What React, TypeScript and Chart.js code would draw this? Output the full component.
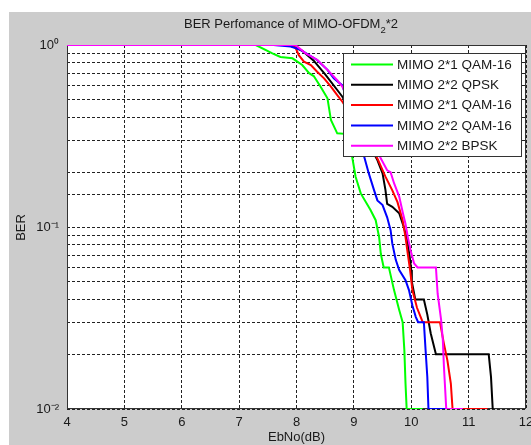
import React, { useEffect, useRef } from 'react';
import { Chart, registerables } from 'chart.js';

Chart.register(...registerables);

// ---- data (EbNo in dB, BER) ----
const greenX = [4, 7.29, 7.58, 7.72, 7.93, 8.1, 8.22, 8.3, 8.42, 8.54, 8.6, 8.71, 8.84, 8.97, 9.03, 9.12, 9.29, 9.38, 9.44, 9.47, 9.52, 9.61, 9.7, 9.79, 9.85, 9.88, 9.9, 9.92, 10.2];
const greenY = [1, 1, 0.9, 0.86, 0.845, 0.776, 0.7, 0.675, 0.59, 0.51, 0.387, 0.327, 0.325, 0.243, 0.189, 0.153, 0.124, 0.109, 0.088, 0.071, 0.06, 0.06, 0.045, 0.035, 0.03, 0.021, 0.0138, 0.01, 0.01];

const blackX = [4, 7.8, 7.95, 8.1, 8.3, 8.5, 8.71, 8.8, 9.41, 9.5, 9.55, 9.58, 9.67, 9.79, 9.87, 9.93, 9.98, 10.0, 10.01, 10.07, 10.22, 10.28, 10.34, 10.43, 11.35, 11.39, 11.42];
const blackY = [1, 1, 0.98, 0.93, 0.82, 0.69, 0.566, 0.52, 0.233, 0.197, 0.16, 0.134, 0.129, 0.119, 0.1, 0.085, 0.066, 0.058, 0.05, 0.04, 0.04, 0.033, 0.026, 0.02, 0.02, 0.015, 0.01];

const redX = [4, 7.85, 7.98, 8.04, 8.13, 8.25, 8.36, 8.48, 8.6, 8.71, 8.8, 9.41, 9.55, 9.67, 9.76, 9.85, 9.9, 9.94, 9.98, 10.02, 10.1, 10.2, 10.5, 10.57, 10.63, 10.69, 10.72, 11.33];
const redY = [1, 1, 0.97, 0.88, 0.81, 0.776, 0.713, 0.656, 0.59, 0.53, 0.488, 0.238, 0.189, 0.159, 0.137, 0.109, 0.088, 0.071, 0.058, 0.045, 0.036, 0.03, 0.03, 0.0228, 0.0185, 0.0138, 0.01, 0.01];

const blueX = [4, 7.6, 7.9, 8.07, 8.36, 8.54, 8.65, 8.8, 9.18, 9.26, 9.35, 9.41, 9.5, 9.58, 9.64, 9.67, 9.73, 9.79, 9.9, 9.96, 10.02, 10.08, 10.12, 10.22, 10.25, 10.28, 10.3, 10.6];
const blueY = [1, 1, 0.98, 0.94, 0.827, 0.73, 0.656, 0.6, 0.243, 0.197, 0.16, 0.14, 0.132, 0.113, 0.096, 0.081, 0.066, 0.058, 0.051, 0.045, 0.037, 0.032, 0.03, 0.03, 0.021, 0.015, 0.01, 0.01];

const magentaX = [4, 7.98, 8.16, 8.36, 8.54, 8.71, 8.8, 9.47, 9.58, 9.64, 9.7, 9.79, 9.85, 9.9, 9.94, 9.99, 10.05, 10.11, 10.43, 10.46, 10.52, 10.55, 10.57, 10.61, 10.9];
const magentaY = [1, 1, 0.9, 0.83, 0.73, 0.64, 0.59, 0.238, 0.205, 0.2, 0.174, 0.147, 0.121, 0.104, 0.088, 0.074, 0.063, 0.06, 0.06, 0.043, 0.031, 0.024, 0.017, 0.01, 0.01];

const seriesLabels = ['MIMO 2*1 QAM-16', 'MIMO 2*2 QPSK', 'MIMO 2*1 QAM-16', 'MIMO 2*2 QAM-16', 'MIMO 2*2 BPSK'];
const seriesColors = ['#00ff00', '#000000', '#ff0000', '#0000ff', '#ff00ff'];
const seriesXs = [greenX, blackX, redX, blueX, magentaX];
const seriesYs = [greenY, blackY, redY, blueY, magentaY];

const xMin = 4;
const xMax = 12;
const yMin = 0.01;
const yMax = 1;
const yDecadeValues = [1, 0.1, 0.01];
const yDecadeLabels = ['10⁰', '10⁻¹', '10⁻²'];

const titleMain = 'BER Perfomance of MIMO-OFDM';
const titleSub = '2';
const titleEnd = '*2';
const xTitle = 'EbNo(dB)';
const yTitle = 'BER';

const FONT = '"Liberation Sans", Arial, sans-serif';

const decorPlugin = {
  id: 'decor',
  beforeDraw(chart: any) {
    const { ctx, width, height, chartArea: a } = chart;
    ctx.save();
    ctx.fillStyle = '#ffffff';
    ctx.fillRect(0, 0, width, height);
    ctx.fillStyle = '#cccccc';
    ctx.fillRect(9, 12, width - 9, height - 12);
    ctx.fillStyle = '#ffffff';
    ctx.fillRect(a.left, a.top, a.right - a.left, a.bottom - a.top);
    ctx.restore();
  },
  beforeDatasetsDraw(chart: any) {
    const { ctx, chartArea: a } = chart;
    ctx.save();
    ctx.strokeStyle = '#333333';
    ctx.lineWidth = 1;
    ctx.setLineDash([]);
    ctx.strokeRect(Math.round(a.left) + 0.5, Math.round(a.top) + 0.5, Math.round(a.right - a.left) - 1, Math.round(a.bottom - a.top) - 1);
    ctx.restore();
  },
  afterDatasetsDraw(chart: any) {
    const { ctx, chartArea: a } = chart;
    ctx.save();
    // legend box
    const lx = 343.5, ly = 53.5, lw = 178, lh = 103;
    ctx.fillStyle = '#ffffff';
    ctx.fillRect(lx, ly, lw, lh);
    ctx.strokeStyle = '#333333';
    ctx.lineWidth = 1;
    ctx.setLineDash([]);
    ctx.strokeRect(lx, ly, lw, lh);
    ctx.font = `13.5px ${FONT}`;
    ctx.textBaseline = 'middle';
    ctx.textAlign = 'left';
    for (let i = 0; i < seriesLabels.length; i++) {
      const y = 64.5 + i * 20.3;
      ctx.strokeStyle = seriesColors[i];
      ctx.lineWidth = 2;
      ctx.beginPath();
      ctx.moveTo(351, y);
      ctx.lineTo(393, y);
      ctx.stroke();
      ctx.fillStyle = '#1a1a1a';
      ctx.fillText(seriesLabels[i], 397, y + 0.5);
    }
    // title
    ctx.fillStyle = '#1a1a1a';
    ctx.font = `13px ${FONT}`;
    const w1 = ctx.measureText(titleMain).width;
    const w3 = ctx.measureText(titleEnd).width;
    ctx.font = `9.5px ${FONT}`;
    const w2 = ctx.measureText(titleSub).width;
    const total = w1 + w2 + w3;
    let tx = 291 - total / 2;
    ctx.textBaseline = 'alphabetic';
    ctx.font = `13px ${FONT}`;
    ctx.fillText(titleMain, tx, 27.5);
    tx += w1;
    ctx.font = `9.5px ${FONT}`;
    ctx.fillText(titleSub, tx, 32.5);
    tx += w2;
    ctx.font = `13px ${FONT}`;
    ctx.fillText(titleEnd, tx, 27.5);
    // axis titles
    ctx.textAlign = 'center';
    ctx.textBaseline = 'middle';
    ctx.fillText(xTitle, (a.left + a.right) / 2, 437);
    ctx.translate(21.5, 227.5);
    ctx.rotate(-Math.PI / 2);
    ctx.fillText(yTitle, 0, 0);
    ctx.restore();
  },
};

export default function App() {
  const canvasRef = useRef<HTMLCanvasElement | null>(null);

  useEffect(() => {
    if (!canvasRef.current) return;
    const datasets = seriesLabels.map((label, i) => ({
      label,
      data: seriesXs[i].map((x, j) => ({ x, y: seriesYs[i][j] })),
      borderColor: seriesColors[i],
      backgroundColor: seriesColors[i],
      borderWidth: 2,
      pointRadius: 0,
      tension: 0,
      fill: false,
      order: seriesLabels.length - i,
    }));
    const chart = new Chart(canvasRef.current, {
      type: 'line',
      data: { datasets },
      options: {
        animation: false,
        responsive: false,
        devicePixelRatio: 1,
        parsing: true,
        layout: { padding: { left: 0, right: 5, top: 45, bottom: 6 } },
        plugins: {
          legend: { display: false },
          title: { display: false },
          tooltip: { enabled: false },
        },
        scales: {
          x: {
            type: 'linear',
            min: xMin,
            max: xMax,
            afterFit: (scale: any) => {
              scale.height = 30;
              scale.paddingLeft = 0;
              scale.paddingRight = 0;
            },
            ticks: {
              stepSize: 1,
              autoSkip: false,
              maxRotation: 0,
              padding: 6,
              color: '#1a1a1a',
              font: { family: FONT, size: 13 },
            },
            grid: { color: '#222222', lineWidth: 1, drawTicks: false },
            border: { display: false, dash: [3, 2] },
          },
          y: {
            type: 'logarithmic',
            min: yMin,
            max: yMax,
            afterFit: (scale: any) => {
              scale.width = 67;
            },
            ticks: {
              autoSkip: false,
              padding: 8,
              color: '#1a1a1a',
              font: { family: FONT, size: 13 },
              callback: (value: any) => {
                const v = Number(value);
                for (let k = 0; k < yDecadeValues.length; k++) {
                  if (Math.abs(v - yDecadeValues[k]) < 1e-9) return yDecadeLabels[k];
                }
                return '';
              },
            },
            grid: { color: '#222222', lineWidth: 1, drawTicks: false },
            border: { display: false, dash: [3, 2] },
          },
        },
      },
      plugins: [decorPlugin],
    } as any);
    return () => chart.destroy();
  }, []);

  return (
    <div style={{ position: 'absolute', left: 0, top: 0, width: 531, height: 445 }}>
      <canvas ref={canvasRef} width={531} height={445} style={{ display: 'block' }} />
    </div>
  );
}
